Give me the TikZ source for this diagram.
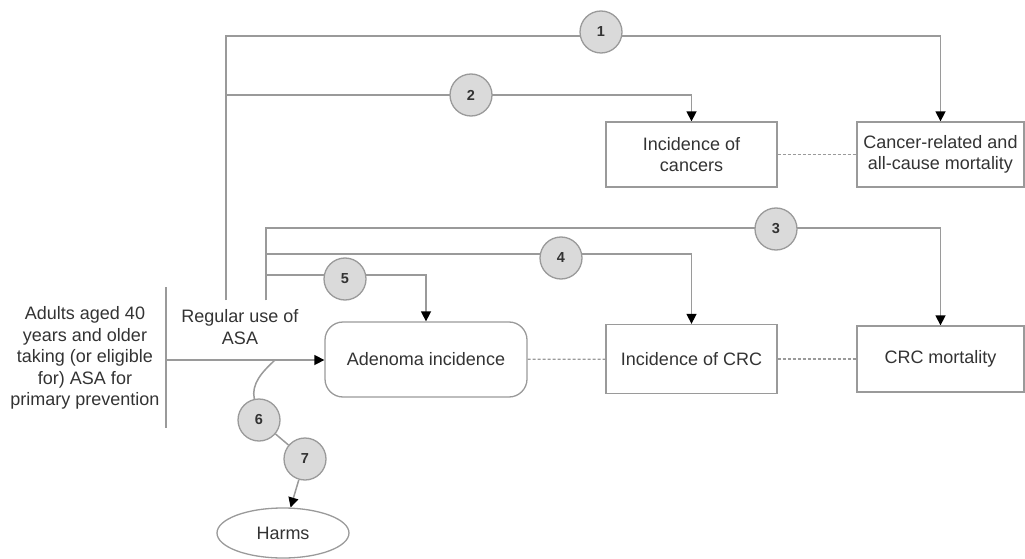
\documentclass[tikz,border=0pt]{standalone}
\usepackage{fontspec}
\setmainfont{Liberation Sans}
\usetikzlibrary{arrows.meta,shapes.geometric,backgrounds}
\definecolor{ln}{HTML}{9A9A9A}
\definecolor{tx}{HTML}{333333}
\definecolor{cf}{HTML}{DADADA}
\begin{document}
\begin{tikzpicture}[x=1pt,y=-1pt,
  every node/.style={text=tx,font=\fontsize{18}{21.5}\selectfont},
  box/.style={draw=ln,line width=1.3pt,inner sep=0pt,align=center},
  num/.style={circle,draw=ln,fill=cf,line width=1.3pt,minimum size=42pt,inner sep=0pt,font=\fontsize{14.5}{16}\selectfont\bfseries},
  conn/.style={draw=ln,line width=1.5pt},
  arr/.style={conn,-{Triangle[length=10pt,width=10pt,color=black]}},
  dotline/.style={draw=ln,line width=1.2pt,dash pattern=on 3pt off 2pt}]
\useasboundingbox (0,0) rectangle (1025,559);

% boxes
\node[box,minimum width=171pt,minimum height=65pt] (canc) at (691.5,154.5) {Incidence of\\cancers};
\node[box,minimum width=167pt,minimum height=65pt] (mort) at (940.5,154.5) {Cancer-related and\\all-cause mortality};
\node[box,rounded corners=18pt,minimum width=202pt,minimum height=75pt] (aden) at (426,359.5) {Adenoma incidence};
\node[box,minimum width=171pt,minimum height=69pt] (crc) at (691.5,359) {Incidence of CRC};
\node[box,minimum width=167pt,minimum height=66pt] (crcm) at (940.5,359) {CRC mortality};
\node[align=center,inner sep=0pt] (pop) at (85,358) {Adults aged 40\\years and older\\taking (or eligible\\for) ASA for\\primary prevention};
\node[align=center,inner sep=0pt] (asa) at (240,327) {Regular use of\\ASA};
\node[ellipse,draw=ln,line width=1.3pt,minimum width=132pt,minimum height=50pt,inner sep=0pt] (harms) at (283,533) {Harms};

% numbered circles
\node[num] (c1) at (601,32) {1};
\node[num] (c2) at (471,95) {2};
\node[num] (c3) at (776,229) {3};
\node[num] (c4) at (561,258) {4};
\node[num] (c5) at (345,279) {5};
\node[num] (c6) at (259,420) {6};
\node[num] (c7) at (305,459) {7};

% coordinates
\coordinate (a1) at (226,300);
\coordinate (a2) at (266,300);
\coordinate (k1) at (940.5,36);
\coordinate (k2) at (691.5,95);
\coordinate (k3) at (940.5,228);
\coordinate (k4) at (691.5,254);
\coordinate (k5) at (426,275);
\coordinate (bartop) at (166,287);
\coordinate (barbot) at (166,428);
\coordinate (p) at (166,360);
\coordinate (split) at (275,360);

\begin{scope}[on background layer]
\draw[conn] (bartop) -- (barbot);
\draw[arr] (a1) |- (k1) -- (k1 |- mort.north);
\draw[arr] (a1) |- (k2) -- (k2 |- canc.north);
\draw[arr] (a2) |- (k3) -- (k3 |- crcm.north);
\draw[arr] (a2) |- (k4) -- (k4 |- crc.north);
\draw[arr] (a2) |- (k5) -- (k5 |- aden.north);
\draw[arr] (p) -- (p -| aden.west);
\draw[dotline] (canc) -- (mort);
\draw[dotline] (aden) -- (crc);
\draw[dotline] (crc) -- (crcm);
\draw[conn] (split) .. controls (262,372) and (251,384) .. (c6);
\draw[conn] (c6) -- (c7);
\draw[arr] (c7) -- (harms);
\end{scope}
\end{tikzpicture}
\end{document}
